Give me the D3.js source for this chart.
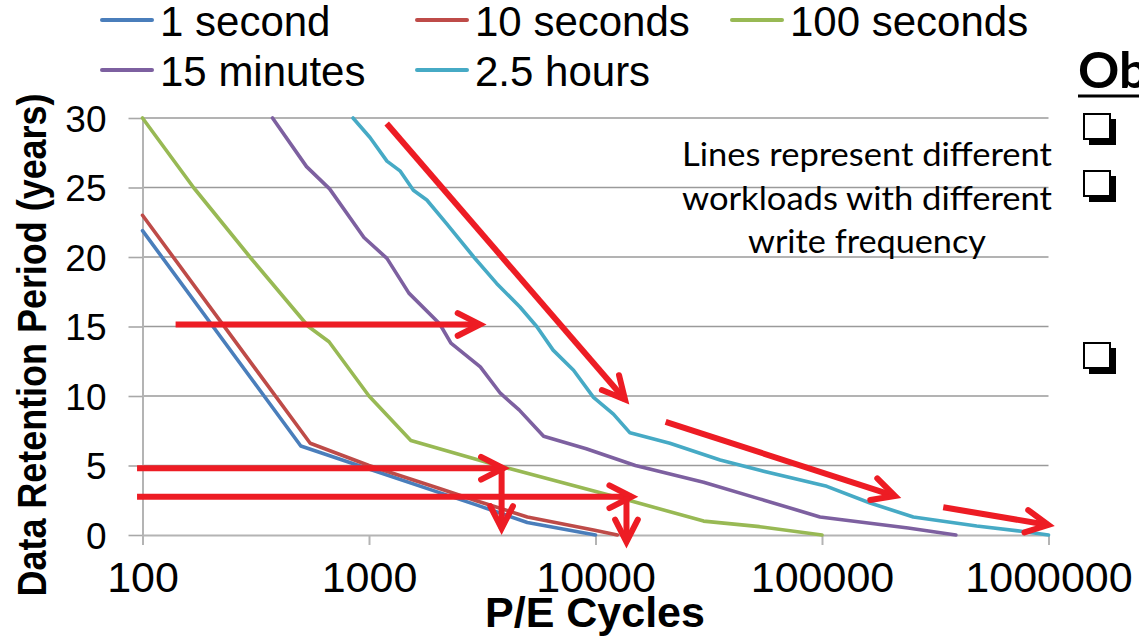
<!DOCTYPE html>
<html>
<head>
<meta charset="utf-8">
<script src="https://cdn.jsdelivr.net/npm/d3@7"></script>
<style>
  html, body { margin: 0; padding: 0; background: #ffffff; }
  svg { display: block; }
</style>
</head>
<body>
<svg id="chart" width="1139" height="637"></svg>
<script>
// ---- Series: data retention period (years) vs. P/E cycles ----
const seriesNames = ["1 second", "10 seconds", "100 seconds", "15 minutes", "2.5 hours"];
const seriesColors = ["#4a7ebb", "#be4b48", "#98b954", "#7d60a0", "#46aac5"];

const cycles1s = [100, 500, 1000, 2000, 3000, 5000, 10000];
const years1s = [21.9, 6.4, 4.75, 3.1, 2.15, 0.9, 0];

const cycles10s = [100, 550, 1000, 2000, 3000, 5000, 9800, 12500];
const years10s = [23.0, 6.6, 5.0, 3.4, 2.45, 1.3, 0.36, 0];

const cycles100s = [100, 168, 298, 540, 666, 1000, 1530, 3700, 14000, 30000, 53000, 100000];
const years100s = [30, 25, 20, 15, 13.9, 10, 6.8, 5.0, 2.5, 1.0, 0.6, 0];

const cycles15m = [375, 530, 670, 950, 1200, 1500, 2050, 2300, 3100, 3800, 4600, 5900, 9100,
                   15000, 30000, 53000, 98000, 240000, 390000];
const years15m = [30, 26.5, 24.9, 21.4, 19.9, 17.4, 15.2, 13.8, 12.1, 10.2, 9.0, 7.1, 6.2,
                  5.0, 3.8, 2.6, 1.3, 0.5, 0];

const cycles25h = [850, 1010, 1200, 1370, 1570, 1800, 2200, 2900, 3660, 4640, 5500, 6500, 8000,
                   9800, 12000, 14200, 21300, 35500, 53200, 105000, 163000, 253000, 482000, 774000, 1000000];
const years25h = [30, 28.6, 26.9, 26.2, 24.8, 24.1, 22.4, 20.0, 18.1, 16.4, 15.0, 13.3, 11.85,
                  9.9, 8.7, 7.35, 6.6, 5.4, 4.65, 3.5, 2.3, 1.3, 0.65, 0.25, 0];

const seriesCycles = [cycles1s, cycles10s, cycles100s, cycles15m, cycles25h];
const seriesYears = [years1s, years10s, years100s, years15m, years25h];

// ---- Axis ticks ----
const xTickValues = [100, 1000, 10000, 100000, 1000000];
const xTickLabels = ["100", "1000", "10000", "100000", "1000000"];
const yTickValues = [0, 5, 10, 15, 20, 25, 30];

// ---- Red annotation arrows (data coordinates) ----
const arrowFromCycles = [140, 94.6, 3850, 94.6, 13700, 1197, 20400, 343000];
const arrowFromYears  = [15.15, 4.8, 4.8, 2.75, 2.75, 29.6, 8.14, 2.0];
const arrowToCycles   = [3090, 3918, 3850, 14450, 13700, 13500, 210000, 998000];
const arrowToYears    = [15.15, 4.8, 0.48, 2.75, -0.5, 9.75, 2.8, 0.72];

// ---- Note text ----
const noteLines = ["Lines represent different", "workloads with different", "write frequency"];

const svg = d3.select("#chart");
const FONT = "'Liberation Sans', Arial, sans-serif";

const x = d3.scaleLog().domain([100, 1000000]).range([142.5, 1048.5]);
const y = d3.scaleLinear().domain([0, 30]).range([535, 118]);

// Horizontal gridlines
svg.append("g")
  .selectAll("line")
  .data(yTickValues.filter(v => v > 0))
  .join("line")
  .attr("x1", x(100)).attr("x2", x(1000000))
  .attr("y1", d => y(d)).attr("y2", d => y(d))
  .attr("stroke", "#9a9a9a").attr("stroke-width", 1.6);

// Y axis
const yAxis = svg.append("g")
  .attr("transform", `translate(${x(100)},0)`)
  .call(d3.axisLeft(y).tickValues(yTickValues).tickSize(14).tickSizeOuter(0).tickPadding(22));
yAxis.select(".domain").attr("stroke", "#b4b4b4").attr("stroke-width", 2);
yAxis.selectAll(".tick line").attr("stroke", "#a8a8a8").attr("stroke-width", 1.6);
yAxis.selectAll(".tick text")
  .attr("font-family", FONT).attr("font-size", 37).attr("fill", "#000")
  .attr("dy", "0.36em");

// X axis
const xAxis = svg.append("g")
  .attr("transform", `translate(0,${y(0)})`)
  .call(d3.axisBottom(x).tickValues(xTickValues)
    .tickFormat((d, i) => xTickLabels[i]).tickSize(10).tickSizeOuter(0));
xAxis.select(".domain").attr("stroke", "#b4b4b4").attr("stroke-width", 2);
xAxis.selectAll(".tick line").attr("stroke", "#b4b4b4").attr("stroke-width", 2);
xAxis.selectAll(".tick text")
  .attr("font-family", FONT).attr("font-size", 43).attr("fill", "#000")
  .attr("y", 57).attr("dy", 0);

// Series lines
const line = d3.line()
  .x(d => x(d[0]))
  .y(d => y(d[1]));

svg.append("g")
  .selectAll("path")
  .data(seriesNames.map((name, i) => seriesCycles[i].map((c, j) => [c, seriesYears[i][j]])))
  .join("path")
  .attr("d", line)
  .attr("fill", "none")
  .attr("stroke", (d, i) => seriesColors[i])
  .attr("stroke-width", 3.6)
  .attr("stroke-linejoin", "round")
  .attr("stroke-linecap", "round");

// Annotation arrows
const arrowG = svg.append("g");
arrowFromCycles.forEach((c, i) => {
  const x1 = x(c), y1 = y(arrowFromYears[i]);
  const x2 = x(arrowToCycles[i]), y2 = y(arrowToYears[i]);
  const ang = Math.atan2(y2 - y1, x2 - x1);
  const head = 25, spread = 27 * Math.PI / 180;
  const a1 = [x2 - head * Math.cos(ang - spread), y2 - head * Math.sin(ang - spread)];
  const a2 = [x2 - head * Math.cos(ang + spread), y2 - head * Math.sin(ang + spread)];
  arrowG.append("line")
    .attr("x1", x1).attr("y1", y1).attr("x2", x2).attr("y2", y2)
    .attr("stroke", "#ed1c24").attr("stroke-width", 6);
  arrowG.append("path")
    .attr("d", `M${a1[0]},${a1[1]}L${x2},${y2}L${a2[0]},${a2[1]}`)
    .attr("fill", "none")
    .attr("stroke", "#ed1c24").attr("stroke-width", 6)
    .attr("stroke-linejoin", "miter").attr("stroke-linecap", "round");
});

// Axis titles
svg.append("text")
  .attr("x", 595).attr("y", 627)
  .attr("text-anchor", "middle")
  .attr("font-family", FONT).attr("font-weight", "bold").attr("font-size", 43)
  .text("P/E Cycles");

svg.append("text")
  .attr("transform", "translate(46,345) rotate(-90)")
  .attr("text-anchor", "middle")
  .attr("font-family", FONT).attr("font-weight", "bold").attr("font-size", 41)
  .attr("textLength", 503).attr("lengthAdjust", "spacingAndGlyphs")
  .text("Data Retention Period (years)");

// Legend
const legendCol = [102, 417, 732, 102, 417];
const legendRow = [20, 20, 20, 70, 70];
const legend = svg.append("g");
seriesNames.forEach((name, i) => {
  legend.append("line")
    .attr("x1", legendCol[i]).attr("x2", legendCol[i] + 50)
    .attr("y1", legendRow[i]).attr("y2", legendRow[i])
    .attr("stroke", seriesColors[i]).attr("stroke-width", 4)
    .attr("stroke-linecap", "round");
  legend.append("text")
    .attr("x", legendCol[i] + 58).attr("y", legendRow[i] + 16)
    .attr("font-family", FONT).attr("font-size", 42).attr("fill", "#000")
    .text(name);
});

// Note inside the plot
const noteBaselines = [166, 210, 253];
const noteWidths = [370, 370, 238];
svg.append("g")
  .selectAll("text")
  .data(noteLines)
  .join("text")
  .attr("x", 867).attr("y", (d, i) => noteBaselines[i])
  .attr("text-anchor", "middle")
  .attr("font-family", "Lato, 'Open Sans', sans-serif").attr("font-size", 33)
  .attr("textLength", (d, i) => noteWidths[i]).attr("lengthAdjust", "spacingAndGlyphs")
  .attr("fill", "#000")
  .text(d => d);

// Side panel fragment: heading and checkbox bullets
svg.append("text")
  .attr("x", 1078).attr("y", 88)
  .attr("font-family", "Lato, 'Open Sans', sans-serif").attr("font-weight", "bold")
  .attr("font-size", 50).attr("fill", "#000")
  .attr("textLength", 70).attr("lengthAdjust", "spacingAndGlyphs")
  .text("Ob");
svg.append("line")
  .attr("x1", 1078).attr("x2", 1139).attr("y1", 96).attr("y2", 96)
  .attr("stroke", "#000").attr("stroke-width", 3);

const boxTops = [113, 170, 342];
const boxes = svg.append("g");
boxTops.forEach(t => {
  boxes.append("rect")
    .attr("x", 1089).attr("y", t + 6).attr("width", 27).attr("height", 26)
    .attr("fill", "#000");
  boxes.append("rect")
    .attr("x", 1084).attr("y", t + 1).attr("width", 26).attr("height", 25)
    .attr("fill", "#fff").attr("stroke", "#000").attr("stroke-width", 2);
});
</script>
</body>
</html>
